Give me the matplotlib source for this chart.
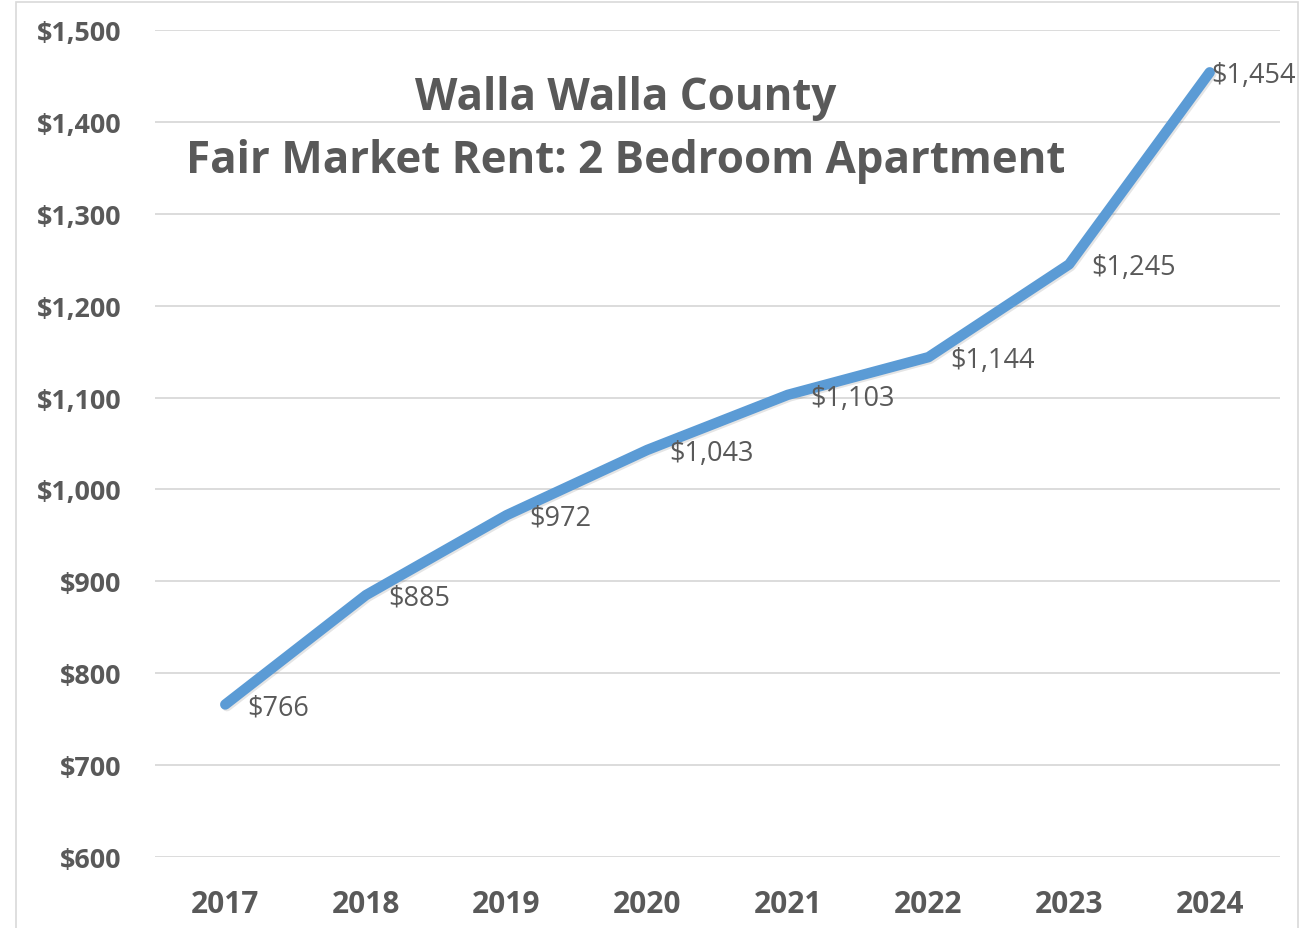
import matplotlib.pyplot as plt
import matplotlib.patheffects as pe
from matplotlib.ticker import FuncFormatter

years = ['2017', '2018', '2019', '2020', '2021', '2022', '2023', '2024']
rent = [766, 885, 972, 1043, 1103, 1144, 1245, 1454]
rent_labels = ['$766', '$885', '$972', '$1,043', '$1,103', '$1,144', '$1,245', '$1,454']

plt.rcParams['font.family'] = ['Open Sans', 'DejaVu Sans']
grey = '#595959'

fig = plt.figure(figsize=(13.01, 9.29), dpi=100)
ax = fig.add_axes([0.1191, 0.0764, 0.8648, 0.8902])

# light frame around the whole chart
fig.patches.append(plt.Rectangle((0.0125, -0.01), 0.985, 1.0065, transform=fig.transFigure,
                                 fill=False, edgecolor='#D9D9D9', linewidth=1.2))

x = list(range(len(years)))
ax.plot(x, rent, color='#5B9BD5', linewidth=7.5, solid_capstyle='round', solid_joinstyle='round',
        path_effects=[pe.SimpleLineShadow(offset=(1.2, -1.2), shadow_color='#000000', alpha=0.1),
                      pe.Normal()], zorder=3)

for i, (v, lab) in enumerate(zip(rent, rent_labels)):
    dx = 16 if i < len(rent) - 1 else 1
    ax.annotate(lab, (i, v), xytext=(dx, -2), textcoords='offset points',
                ha='left', va='center', fontsize=19.5, color=grey, zorder=4)

ax.set_xlim(-0.5, 7.5)
ax.set_ylim(600, 1500)
ax.set_yticks(range(600, 1501, 100))
ax.yaxis.set_major_formatter(FuncFormatter(lambda v, p: f'${v:,.0f}'))
ax.set_xticks(x)
ax.set_xticklabels(years)
ax.tick_params(axis='both', length=0, labelcolor=grey)
ax.tick_params(axis='y', labelsize=19.4, pad=24)
ax.tick_params(axis='x', labelsize=21.5, pad=23)
for t in ax.get_xticklabels() + ax.get_yticklabels():
    t.set_fontweight('bold')

ax.grid(axis='y', color='#D9D9D9', linewidth=1.3)
ax.set_axisbelow(True)
for s in ax.spines.values():
    s.set_visible(False)

ax.text(0.4188, 0.919, 'Walla Walla County', transform=ax.transAxes, ha='center', va='center',
        fontsize=31.6, fontweight='bold', color=grey)
ax.text(0.4188, 0.842, 'Fair Market Rent: 2 Bedroom Apartment', transform=ax.transAxes,
        ha='center', va='center', fontsize=31.6, fontweight='bold', color=grey)

fig.savefig('out.png', dpi=100)
